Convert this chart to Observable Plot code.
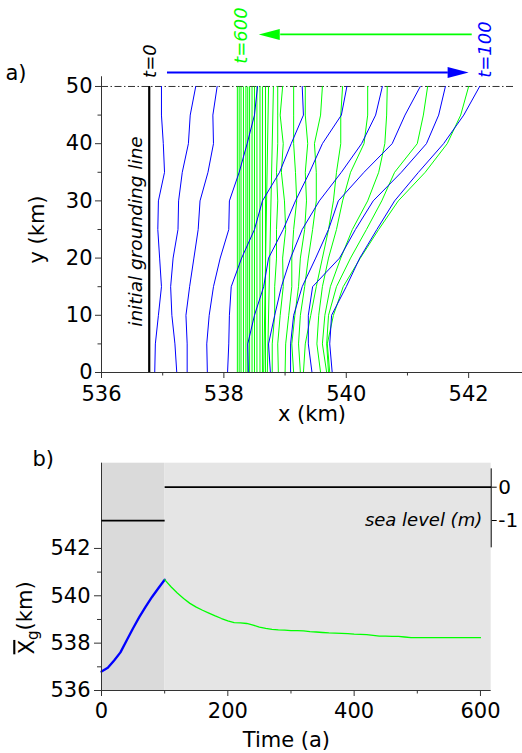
<!DOCTYPE html>
<html><head><meta charset="utf-8">
<script src="https://cdn.jsdelivr.net/npm/d3@7"></script>
<script src="https://cdn.jsdelivr.net/npm/@observablehq/plot@0.6"></script>
<style>
body{margin:0;background:#fff;}
#wrap{position:relative;width:522px;height:753px;overflow:hidden;background:#fff}
#wrap svg{position:absolute;left:0;overflow:visible}
</style></head><body><div id="wrap"></div>
<script>
// ---------- Panel a data (x in km at y levels, km) ----------
const yLevels = [0, 5, 10, 15, 20, 25, 30, 35, 40, 45, 50];
const initialX = 536.78;
const blueTimes = [10, 20, 30, 40, 50, 60, 70, 80, 90, 100];
const blueLines = [
  [536.87, 536.88, 536.93, 536.98, 536.95, 536.92, 536.93, 537.03, 537.01, 536.98, 536.98],
  [537.23, 537.20, 537.15, 537.13, 537.17, 537.25, 537.26, 537.32, 537.42, 537.45, 537.54],
  [537.40, 537.40, 537.38, 537.44, 537.51, 537.58, 537.61, 537.74, 537.83, 537.82, 537.89],
  [537.73, 537.72, 537.76, 537.83, 537.94, 538.08, 538.09, 538.25, 538.38, 538.50, 538.55],
  [538.06, 538.08, 538.09, 538.12, 538.29, 538.50, 538.63, 538.91, 539.10, 539.30, 539.28],
  [538.40, 538.39, 538.50, 538.65, 538.73, 538.97, 539.17, 539.40, 539.61, 539.92, 540.01],
  [538.76, 538.73, 538.83, 538.94, 539.09, 539.28, 539.56, 539.92, 540.25, 540.48, 540.59],
  [539.09, 539.09, 539.14, 539.28, 539.50, 539.71, 539.87, 540.29, 540.75, 540.96, 541.21],
  [539.44, 539.38, 539.38, 539.45, 539.89, 540.15, 540.44, 540.90, 541.31, 541.51, 541.62],
  [539.77, 539.73, 539.76, 540.00, 540.22, 540.50, 540.79, 541.18, 541.59, 541.92, 542.18]
];
const greenCurveTimes = [120, 140, 160, 180, 200, 220, 240, 260, 280, 300];
const greenCurves = [
  [539.73, 539.69, 539.79, 539.95, 540.23, 540.53, 540.85, 541.29, 541.65, 541.87, 542.00],
  [539.71, 539.68, 539.71, 539.84, 540.07, 540.33, 540.58, 540.79, 541.16, 541.26, 541.33],
  [539.68, 539.61, 539.65, 539.74, 539.91, 540.10, 540.35, 540.53, 540.63, 540.66, 540.67],
  [539.58, 539.52, 539.55, 539.61, 539.71, 539.84, 539.94, 540.07, 540.29, 540.35, 540.35],
  [539.30, 539.33, 539.42, 539.51, 539.61, 539.71, 539.79, 539.84, 539.91, 539.91, 539.94],
  [539.25, 539.22, 539.25, 539.32, 539.38, 539.45, 539.51, 539.51, 539.48, 539.58, 539.61],
  [539.14, 539.11, 539.16, 539.22, 539.25, 539.32, 539.35, 539.33, 539.37, 539.33, 539.33],
  [539.00, 539.01, 539.06, 539.11, 539.11, 539.14, 539.19, 539.17, 539.14, 539.14, 539.14],
  [538.89, 538.88, 538.92, 538.97, 538.96, 539.01, 538.99, 538.94, 538.97, 538.92, 538.96],
  [538.79, 538.79, 538.83, 538.83, 538.86, 538.86, 538.88, 538.86, 538.88, 538.88, 538.88]
];
const greenStraightTimes = [320, 340, 360, 380, 400, 420, 440, 460, 480, 500, 520, 540, 560, 580, 600];
const greenStraightBottom = [538.71, 538.65, 538.68, 538.63, 538.59, 538.54, 538.50, 538.46, 538.42, 538.39, 538.36, 538.32, 538.28, 538.25, 538.22];
const greenStraightTop    = [538.81, 538.73, 538.68, 538.63, 538.59, 538.54, 538.50, 538.46, 538.42, 538.39, 538.36, 538.32, 538.28, 538.25, 538.22];

// annotations of panel a
const tLabelText = ["t=0", "t=600", "t=100"];
const tLabelX = [536.80, 538.28, 542.27];
const tLabelY = [51.5, 53.97, 51.52];
const tLabelColor = ["black", "lime", "blue"];
const arrowStart = [537.07, 542.05];
const arrowShaftEnd = [541.66, 538.92];
const arrowTip = [542.00, 538.57];
const arrowY = [52.45, 59.1];
const arrowColor = ["blue", "lime"];
const arrowRotate = [0, 180];
const xTicksA = [536, 538, 540, 542];
const xMinorA = [537, 539, 541];
const yTicksA = [0, 10, 20, 30, 40, 50];
const yMinorA = [5, 15, 25, 35, 45];

// ---------- Panel b data ----------
const timesBlue = [0, 10, 20, 30, 40, 50, 60, 70, 80, 90, 100];
const xgBlue = [536.80, 536.96, 537.27, 537.61, 538.12, 538.63, 539.11, 539.54, 539.95, 540.32, 540.68];
const timesGreen = [100,110,120,130,140,150,160,170,180,190,200,210,220,230,240,250,260,270,280,290,300,
  310,320,330,340,350,360,370,380,390,400,410,420,430,440,450,460,470,480,490,500,
  510,520,530,540,550,560,570,580,590,600];
const xgGreen = [540.68,540.38,540.12,539.89,539.68,539.52,539.39,539.27,539.15,539.04,538.94,
  538.87,538.86,538.83,538.76,538.68,538.62,538.58,538.56,538.55,538.53,
  538.53,538.52,538.49,538.47,538.45,538.43,538.42,538.41,538.40,538.38,
  538.37,538.36,538.33,538.30,538.30,538.29,538.29,538.26,538.23,538.23,
  538.23,538.23,538.23,538.23,538.23,538.23,538.23,538.23,538.23,538.23];
const shadeStart = [0, 100];
const shadeEnd = [100, 617];
const shadeColor = ["#dadada", "#e5e5e5"];
const seaStart = [0, 100];
const seaEnd = [100, 617];
const seaLevel = [-1, 0];
const seaAxisExtent = [-1.82, 0.55];
const seaTicks = [0, -1];
const xTicksB = [0, 200, 400, 600];
const xMinorB = [100, 300, 500];
const yTicksB = [536, 538, 540, 542];
const yMinorB = [537, 539, 541];

// ---------- build rows ----------
const blueRows = blueLines.flatMap((xs, i) => xs.map((x, j) => ({x, y: yLevels[j], k: blueTimes[i]})));
const greenRows = greenCurves.flatMap((xs, i) => xs.map((x, j) => ({x, y: yLevels[j], k: greenCurveTimes[i]})));
const greenStraightRows = greenStraightTimes.map((t, i) => ({t, x1: greenStraightBottom[i], x2: greenStraightTop[i],
  y1: yLevels[0], y2: yLevels[yLevels.length - 1]}));
const arrows = arrowStart.map((s, i) => ({x1: s, x2: arrowShaftEnd[i], tip: arrowTip[i], y: arrowY[i], c: arrowColor[i], r: arrowRotate[i]}));
const tLabels = tLabelText.map((s, i) => ({s, x: tLabelX[i], y: tLabelY[i], c: tLabelColor[i]}));

const headSymbol = {draw(ctx) { ctx.moveTo(0, 0); ctx.lineTo(-21, -5.5); ctx.lineTo(-21, 5.5); ctx.closePath(); }};
const FONT = "DejaVu Sans";
const AX = "#333";

const xDomA = [536, 542.88];
const A = Plot.plot({
  width: 522, height: 430, marginLeft: 101, marginRight: 0, marginTop: 0, marginBottom: 58,
  x: {domain: xDomA}, y: {domain: [0, 65.03]},
  style: {fontFamily: FONT, fontSize: "21px", background: "white", overflow: "visible"},
  marks: [
    Plot.ruleY([yLevels[yLevels.length - 1]], {x1: xDomA[0], x2: 542.75, stroke: "#333", strokeWidth: 1, strokeDasharray: "7,2.5,1.5,2.5"}),
    Plot.line(greenRows, {x: "x", y: "y", z: "k", stroke: "lime", strokeWidth: 1}),
    Plot.link(greenStraightRows, {x1: "x1", x2: "x2", y1: "y1", y2: "y2", stroke: "lime", strokeWidth: 1}),
    Plot.line(blueRows, {x: "x", y: "y", z: "k", stroke: "blue", strokeWidth: 1}),
    Plot.ruleX([initialX], {y1: yLevels[0], y2: yLevels[yLevels.length - 1], stroke: "black", strokeWidth: 2.2}),
    ...arrows.map(a => Plot.link([a], {x1: "x1", x2: "x2", y1: "y", y2: "y", stroke: a.c, strokeWidth: a.c === "blue" ? 2 : 1.6})),
    ...arrows.map(a => Plot.dot([a], {x: "tip", y: "y", symbol: headSymbol, fill: a.c, rotate: a.r})),
    ...tLabels.map(d => Plot.text([d], {x: "x", y: "y", text: "s", rotate: -90, textAnchor: "start", fontStyle: "italic", fontSize: 18, fill: d.c})),
    Plot.text(["initial grounding line"], {x: [536.56], y: [24.65], rotate: -90, textAnchor: "middle", lineAnchor: "middle", fontStyle: "italic", fontSize: 18.5, fill: "black"}),
    Plot.ruleX([xDomA[0]], {y1: 0, y2: 51.7, stroke: AX}),
    Plot.ruleY([0], {stroke: AX}),
    Plot.axisX(xTicksA, {tickSize: 6, tickPadding: 8, fontSize: 21, color: "black", stroke: AX, label: null}),
    Plot.axisX(xMinorA, {tickSize: 3.5, tickFormat: () => "", stroke: AX, label: null}),
    Plot.axisY(yTicksA, {tickSize: 6, tickPadding: 3, fontSize: 21, color: "black", stroke: AX, label: null}),
    Plot.axisY(yMinorA, {tickSize: 3.5, tickFormat: () => "", stroke: AX, label: null}),
    Plot.text(["x (km)"], {frameAnchor: "bottom", dy: 42, textAnchor: "middle", lineAnchor: "middle", fontSize: 21, fill: "black"}),
    Plot.text(["y (km)"], {frameAnchor: "left", dx: -64, dy: 43, rotate: -90, textAnchor: "middle", lineAnchor: "middle", fontSize: 21, fill: "black"}),
    Plot.text(["a)"], {frameAnchor: "top-left", dx: -96, dy: 73, textAnchor: "start", lineAnchor: "middle", fontSize: 21, fill: "black"})
  ]
});

const blueB = timesBlue.map((t, i) => ({t, v: xgBlue[i]}));
const greenB = timesGreen.map((t, i) => ({t, v: xgGreen[i]}));
const shades = shadeStart.map((a, i) => ({a, b: shadeEnd[i], c: shadeColor[i]}));
const seaRows = seaStart.map((a, i) => ({a, b: seaEnd[i], s: seaLevel[i]}));
const xDomB = [0, 617];
const dims = {width: 522, height: 323, marginLeft: 101, marginRight: 31.3, marginTop: 32.7, marginBottom: 63};

const B = Plot.plot({
  ...dims,
  x: {domain: xDomB}, y: {domain: [536, 545.6]},
  style: {fontFamily: FONT, fontSize: "21px", background: "transparent", overflow: "visible"},
  marks: [
    ...shades.map(s => Plot.rect([s], {x1: "a", x2: "b", fill: s.c})),
    Plot.line(blueB, {x: "t", y: "v", stroke: "blue", strokeWidth: 2.3}),
    Plot.line(greenB, {x: "t", y: "v", stroke: "lime", strokeWidth: 1.3}),
    Plot.ruleX([xDomB[0]], {stroke: AX}),
    Plot.ruleY([536], {stroke: AX}),
    Plot.axisX(xTicksB, {tickSize: 6, tickPadding: 7, fontSize: 21, color: "black", stroke: AX, label: null}),
    Plot.axisX(xMinorB, {tickSize: 3.5, tickFormat: () => "", stroke: AX, label: null}),
    Plot.axisY(yTicksB, {tickSize: 7, tickPadding: 4, fontSize: 21, color: "black", stroke: AX, label: null}),
    Plot.axisY(yMinorB, {tickSize: 4, tickFormat: () => "", stroke: AX, label: null}),
    Plot.text(["Time (a)"], {frameAnchor: "bottom", dx: -10, dy: 50, textAnchor: "middle", lineAnchor: "middle", fontSize: 21, fill: "black"}),
    Plot.text(["Xg(km)"], {frameAnchor: "left", dx: -74, dy: 41, rotate: -90, textAnchor: "middle", lineAnchor: "middle", fontSize: 21, fill: "black"}),
    Plot.text(["b)"], {frameAnchor: "top-left", dx: -69, dy: -4, textAnchor: "start", lineAnchor: "middle", fontSize: 21, fill: "black"})
  ]
});

const S = Plot.plot({
  ...dims,
  x: {domain: xDomB, axis: null}, y: {domain: [-6.1, 0.72]},
  style: {fontFamily: FONT, fontSize: "20px", background: "transparent", overflow: "visible"},
  marks: [
    Plot.link(seaRows, {x1: "a", x2: "b", y1: "s", y2: "s", stroke: "black", strokeWidth: 1.7}),
    Plot.ruleX([xDomB[1]], {y1: seaAxisExtent[0], y2: seaAxisExtent[1], stroke: "black", strokeWidth: 1}),
    Plot.axisY(seaTicks, {anchor: "right", tickSize: 5, tickPadding: 2, fontSize: 20, color: "black", tickFormat: d => String(d), label: null}),
    Plot.text(["sea level (m)"], {frameAnchor: "right", y: [seaTicks[1]], dx: -9, textAnchor: "end", lineAnchor: "middle", fontStyle: "italic", fontSize: 18, fill: "black"})
  ]
});

// subscript / overline for the Xg label
d3.select(B).selectAll("text").filter(function() { return this.textContent === "Xg(km)"; }).each(function() {
  const t = d3.select(this);
  t.text(null);
  t.append("tspan").attr("text-decoration", "overline").text("X");
  t.append("tspan").attr("dy", "0.28em").attr("font-size", "15px").text("g");
  t.append("tspan").attr("dy", "-0.3em").text("(km)");
});

const wrap = document.getElementById("wrap");
A.style.top = "0px";
B.style.top = "430px";
S.style.top = "430px";
wrap.append(A, B, S);
</script></body></html>
